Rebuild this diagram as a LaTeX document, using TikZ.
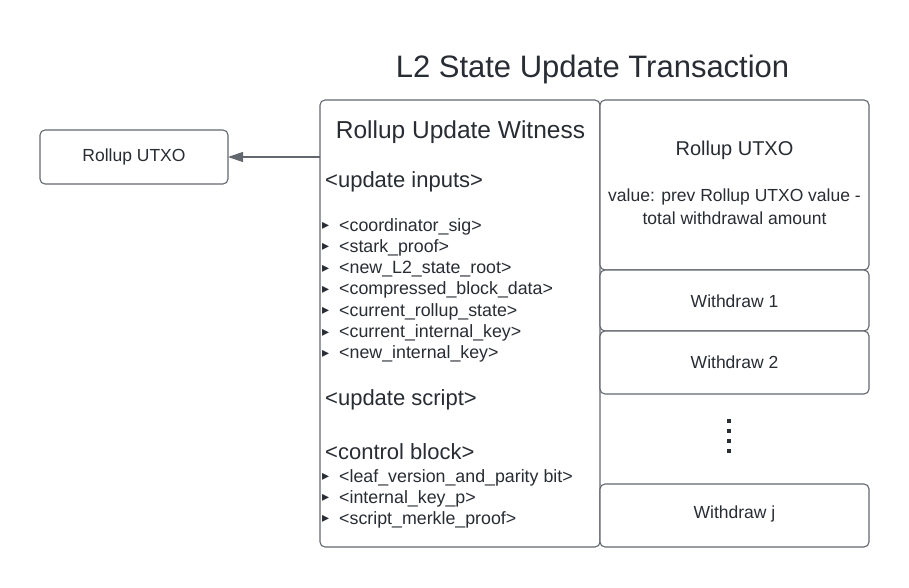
\documentclass[tikz,border=0pt]{standalone}
\usepackage{fontspec}
\setmainfont{Liberation Sans}
\newfontfamily\symfont{DejaVu Sans}
\usetikzlibrary{arrows.meta}
\definecolor{txt}{HTML}{282C33}
\definecolor{ln}{HTML}{63676E}
\newcommand{\fs}[1]{\fontsize{#1}{#1}\selectfont}
\newcommand{\bul}{{\symfont\fs{14}\raisebox{1.5pt}{▸}}\hspace{10pt}}
\tikzset{
  box/.style={draw=ln, line width=1.1pt, rounded corners=5pt, fill=white},
  body/.style={text=txt, font=\fs{17.5}, inner sep=0pt},
  hdr/.style={text=txt, font=\fs{22}, inner sep=0pt, anchor=base west},
  item/.style={text=txt, font=\fs{17.8}, inner sep=0pt, anchor=base west},
}
\begin{document}
\begin{tikzpicture}[x=1pt,y=-1pt]
\useasboundingbox (0,0) rectangle (909,588);
% title
\node[text=txt, font=\fs{31}, inner sep=0pt] (title) at (592.5,69) {L2 State Update Transaction};
% boxes
\draw[box] (40,130) rectangle (228,184);
\node[body] (utxoL) at (134,157) {Rollup UTXO};
\draw[box] (320,100) rectangle (600,547);
\coordinate (witW) at (320,157);
\coordinate (utxoE) at (228,157);
\draw[box] (600,100) rectangle (869,270);
\draw[box] (600,270) rectangle (869,331);
\draw[box] (600,331) rectangle (869,394);
\draw[box] (600,484) rectangle (869,547);
% arrow
\draw[draw=ln, line width=1.1pt, -{Triangle[length=15pt,width=10pt]}] (witW) -- (utxoE);
% witness text
\node[text=txt, font=\fs{24.5}, inner sep=0pt] (wt) at (460.5,132) {Rollup Update Witness};
\node[hdr] (h1) at (325,187.5) {<update inputs>};
\node[item] (i1) at (322,231) {\bul<coordinator\_sig>};
\node[item] (i2) at (322,252.3) {\bul<stark\_proof>};
\node[item] (i3) at (322,273.6) {\bul<new\_L2\_state\_root>};
\node[item] (i4) at (322,294.9) {\bul<compressed\_block\_data>};
\node[item] (i5) at (322,316.2) {\bul<current\_rollup\_state>};
\node[item] (i6) at (322,337.5) {\bul<current\_internal\_key>};
\node[item] (i7) at (322,358.8) {\bul<new\_internal\_key>};
\node[hdr] (h2) at (325,405.5) {<update script>};
\node[hdr] (h3) at (325,459.5) {<control block>};
\node[item] (c1) at (322,482) {\bul<leaf\_version\_and\_parity bit>};
\node[item] (c2) at (322,503.2) {\bul<internal\_key\_p>};
\node[item] (c3) at (322,524.4) {\bul<script\_merkle\_proof>};
% right column text
\node[text=txt, font=\fs{20}, inner sep=0pt] (utxoR) at (734.5,150) {Rollup UTXO};
\node[body] (v1) at (734.5,197) {value: prev Rollup UTXO value -};
\node[body] (v2) at (734.5,218) {total withdrawal amount};
\node[body] (w1) at (734.5,301) {Withdraw 1};
\node[body] (w2) at (734.5,362) {Withdraw 2};
\node[body] (wj) at (734.5,514) {Withdraw j};
% vertical dots
\foreach \yy in {421,431,441,451} \fill[txt] (727.3,\yy-1.7) rectangle (730.7,\yy+1.7);
\end{tikzpicture}
\end{document}
